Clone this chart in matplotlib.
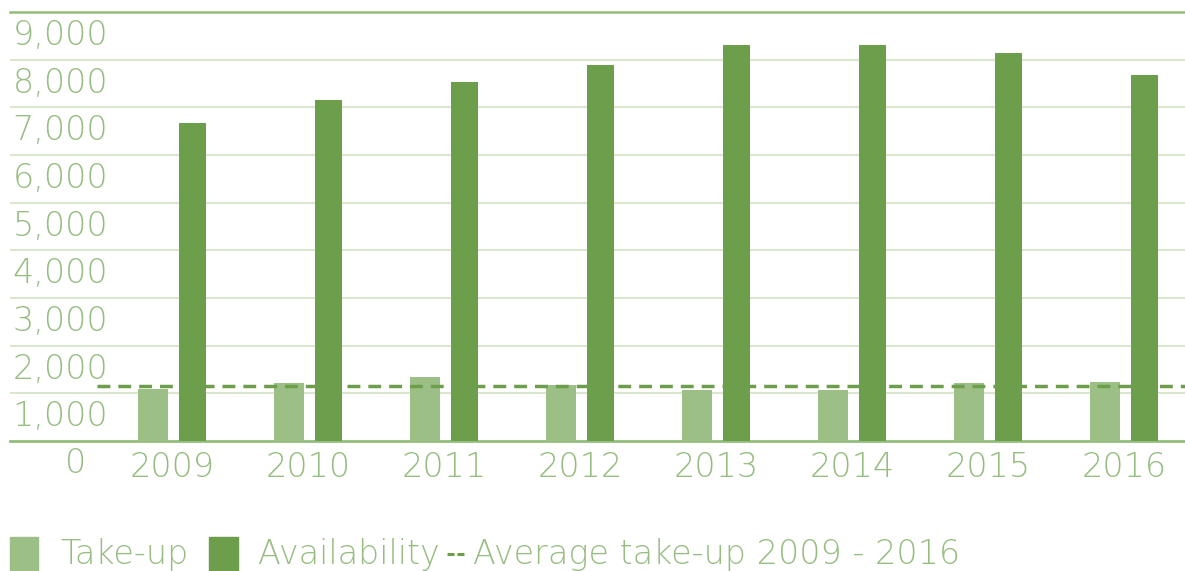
import matplotlib.pyplot as plt
from matplotlib.patches import Rectangle
from matplotlib.lines import Line2D

years = ["2009", "2010", "2011", "2012", "2013", "2014", "2015", "2016"]
take_up = [1090, 1215, 1345, 1175, 1070, 1070, 1215, 1240]
availability = [6670, 7150, 7530, 7890, 8310, 8310, 8140, 7680]
avg_take_up = 1155
y_ticks = [1000, 2000, 3000, 4000, 5000, 6000, 7000, 8000, 9000]

light = "#9cbf86"
dark = "#6d9e4b"
txt = "#97bd82"
grid_c = "#d8e7cd"
line_c = "#94bd7c"

plt.rcParams["font.family"] = ["DejaVu Sans"]
plt.rcParams["font.weight"] = "light"
FS = 24

W, H = 1185, 571
fig = plt.figure(figsize=(W / 100, H / 100), dpi=100)
ax = fig.add_axes([10 / W, 130 / H, 1175 / W, 429 / H])

x = list(range(len(years)))
ax.bar([i - 0.14 for i in x], take_up, width=0.215, color=light, zorder=3)
ax.bar([i + 0.15 for i in x], availability, width=0.2, color=dark, zorder=3)
ax.plot([-0.55, 7.5], [avg_take_up, avg_take_up], color=dark, lw=2.5,
        ls=(0, (3.7, 2.3)), zorder=4)

ax.set_xlim(-162 / 136, -162 / 136 + 1175 / 136)
ax.set_ylim(0, 9000)

for v in y_ticks[:-1]:
    ax.axhline(v, color=grid_c, lw=1.5, zorder=1)

for s in ["left", "right"]:
    ax.spines[s].set_visible(False)
ax.spines["top"].set_color(line_c)
ax.spines["top"].set_linewidth(1.8)
ax.spines["bottom"].set_color(line_c)
ax.spines["bottom"].set_linewidth(2)

ax.set_yticks([])
ax.set_xticks(x)
ax.set_xticklabels(years, fontsize=FS, color=txt)
ax.tick_params(axis="x", length=0, pad=7)

# y labels sit below their gridlines
ytr = ax.get_yaxis_transform()
for v in y_ticks:
    ax.annotate(f"{v:,}", xy=(98 / 1175, v), xycoords=ytr,
                xytext=(0, -33), textcoords="offset pixels",
                ha="right", va="baseline", fontsize=FS, color=txt,
                annotation_clip=False)
ax.annotate("0", xy=(66 / 1175, 0), xycoords=ytr,
            xytext=(0, -32), textcoords="offset pixels",
            ha="center", va="baseline", fontsize=FS, color=txt,
            annotation_clip=False)

# legend
fig.add_artist(Rectangle((10 / W, 0), 28 / W, 34 / H, color=light,
                         transform=fig.transFigure))
fig.add_artist(Rectangle((209 / W, 0), 29 / W, 34 / H, color=dark,
                         transform=fig.transFigure))
for x0 in (447, 457):
    fig.add_artist(Line2D([x0 / W, (x0 + 7) / W], [17 / H, 17 / H], color=dark,
                          lw=2.2, solid_capstyle="butt", transform=fig.transFigure))
fig.text(60 / W, 7 / H, "Take-up", fontsize=FS, color=txt, va="baseline")
fig.text(258 / W, 7 / H, "Availability", fontsize=FS, color=txt, va="baseline")
fig.text(473 / W, 7 / H, "Average take-up 2009 - 2016", fontsize=FS,
         color=txt, va="baseline")

fig.savefig("out.png", dpi=100)
